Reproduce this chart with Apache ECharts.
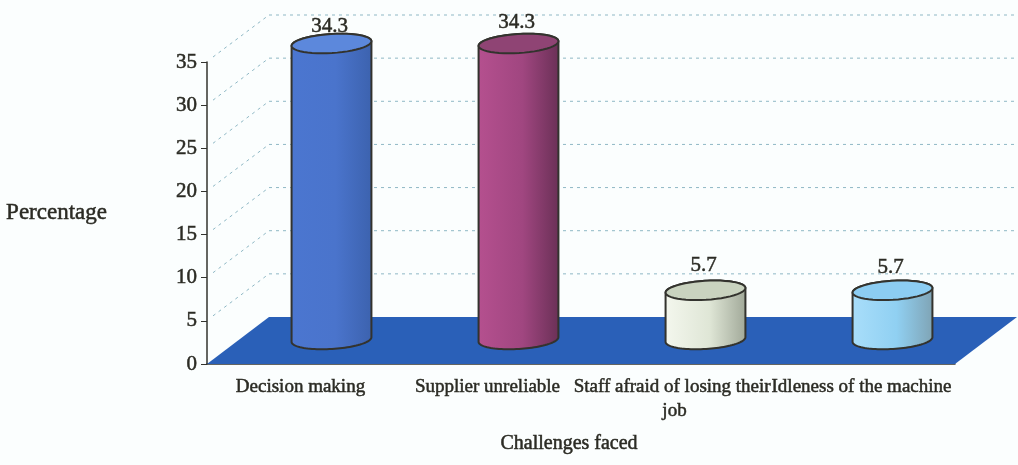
<!DOCTYPE html>
<html>
<head>
<meta charset="utf-8">
<title>Challenges faced</title>
<style>html,body{margin:0;padding:0;background:#fbfefe}#chart{width:1018px;height:465px}</style>
<script src="https://cdn.jsdelivr.net/npm/echarts@6/dist/echarts.min.js"></script>
</head>
<body>
<div id="chart"></div>
<script>
// Challenges reported, as a percentage of respondents
const categories = ['Decision making', 'Supplier unreliable', 'Staff afraid of losing their job', 'Idleness of the machine'];
const values = [34.3, 34.3, 5.7, 5.7];
const yTicks = [0, 5, 10, 15, 20, 25, 30, 35];

// Cylinder shading: left, middle and right of the side, then the top cap
const bodyShades = [
  ['#4b76d0', '#4a74cc', '#3c62ae', '#5c88dc'],
  ['#b5508f', '#a04680', '#6a3056', '#8f4474'],
  ['#f4f7ee', '#dfe6d6', '#a0a898', '#c9d3bf'],
  ['#a9defa', '#90d0f2', '#7fa3b4', '#8ccdf2']
];

// Oblique projection of the chart's depth axis
const DEPTH_X = 62, DEPTH_Y = 47;
const RX = 40, RY = 9.5, TILT = -3.5 * Math.PI / 180;
const LABEL_LIFT = [17, 21, 25, 23];
const INK = '#2b2b24';
const FONT = '"Liberation Serif", serif';
const HEAVY = { textBorderColor: INK, textBorderWidth: 0.5 };

function ellipsePoint(cx, cy, t) {
  const c = Math.cos(t) , s = Math.sin(t);
  return [
    cx + RX * c * Math.cos(TILT) - RY * s * Math.sin(TILT),
    cy + RX * c * Math.sin(TILT) + RY * s * Math.cos(TILT)
  ];
}
function arc(cx, cy, from, to) {
  const pts = [];
  for (let k = 0; k <= 48; k++) pts.push(ellipsePoint(cx, cy, from + (to - from) * k / 48));
  return pts;
}

function renderFloor(params, api) {
  const g = params.coordSys, x0 = g.x, x1 = g.x + g.width, y0 = api.coord([0, 0])[1];
  return {
    type: 'polygon',
    shape: { points: [[x0, y0], [x0 + DEPTH_X, y0 - DEPTH_Y], [x1 + DEPTH_X, y0 - DEPTH_Y], [x1, y0]] },
    style: { fill: '#2a60b8' }
  };
}

function renderWallLines(params, api) {
  const g = params.coordSys, y = api.coord([0, api.value(1)])[1];
  const style = { stroke: '#8fb8c5', lineWidth: 1, lineDash: [3, 4], fill: null };
  return {
    type: 'group',
    children: [
      { type: 'line', shape: { x1: g.x + 6, y1: y - 5, x2: g.x + DEPTH_X, y2: y - DEPTH_Y }, style },
      { type: 'line', shape: { x1: g.x + DEPTH_X, y1: y - DEPTH_Y, x2: g.x + g.width + DEPTH_X, y2: y - DEPTH_Y }, style }
    ]
  };
}

function renderCylinder(params, api) {
  const i = api.value(0), v = api.value(1);
  const top = api.coord([i, v]), base = api.coord([i, 0]);
  const cx = top[0] + DEPTH_X / 2, topY = top[1] - DEPTH_Y / 2 - 1, baseY = base[1] - DEPTH_Y / 2 - 1;
  const s = bodyShades[i];
  const outline = { stroke: '#33332e', lineWidth: 2 };
  return {
    type: 'group',
    children: [
      {
        type: 'polygon',
        shape: { points: arc(cx, baseY, 0, Math.PI).concat(arc(cx, topY, Math.PI, 2 * Math.PI)) },
        style: Object.assign({
          fill: { type: 'linear', x: 0, y: 0, x2: 1, y2: 0, colorStops: [
            { offset: 0, color: s[0] }, { offset: 0.55, color: s[1] }, { offset: 1, color: s[2] }
          ] }
        }, outline)
      },
      {
        type: 'polygon',
        shape: { points: arc(cx, topY, 0, 2 * Math.PI) },
        style: Object.assign({ fill: s[3] }, outline)
      },
      {
        type: 'text',
        style: Object.assign({
          text: String(v), x: cx - 2, y: topY - LABEL_LIFT[i], align: 'center', verticalAlign: 'middle',
          font: '21px ' + FONT, fill: INK
        }, { stroke: INK, lineWidth: 0.5 })
      }
    ]
  };
}

const chart = echarts.init(document.getElementById('chart'), null, { renderer: 'canvas' });
chart.setOption({
  animation: false,
  backgroundColor: '#fbfefe',
  grid: { left: 207, right: 63, top: 62, bottom: 101, outerBoundsMode: 'none' },
  xAxis: {
    type: 'category',
    data: categories,
    axisLine: { lineStyle: { color: '#33332e', width: 1.5 } },
    axisTick: { length: 6, lineStyle: { color: '#33332e' } },
    axisLabel: Object.assign({
      interval: 0, margin: 11, width: 206, overflow: 'break', lineHeight: 24,
      fontFamily: FONT, fontSize: 19, color: INK
    }, HEAVY),
    name: 'Challenges faced',
    nameLocation: 'middle',
    nameGap: 70,
    nameTextStyle: Object.assign({ fontFamily: FONT, fontSize: 20, color: INK, padding: [0, 24, 0, 0] }, HEAVY)
  },
  yAxis: {
    type: 'value',
    min: 0, max: 35, interval: 5,
    splitLine: { show: false },
    axisLine: { show: true, lineStyle: { color: '#33332e', width: 1.5 } },
    axisTick: { show: true, length: 6, lineStyle: { color: '#33332e' } },
    axisLabel: Object.assign({ margin: 10, fontFamily: FONT, fontSize: 21, color: INK }, HEAVY),
    name: 'Percentage',
    nameLocation: 'middle',
    nameRotate: 0,
    nameGap: 100,
    nameTextStyle: Object.assign({ fontFamily: FONT, fontSize: 23, color: INK, padding: [0, 0, 22, 0] }, HEAVY)
  },
  series: [
    { type: 'custom', silent: true, z: 1, renderItem: renderWallLines, data: yTicks.filter(t => t > 0).map(t => [0, t]) },
    { type: 'custom', silent: true, z: 2, renderItem: renderFloor, data: [[0, 0]] },
    { type: 'custom', silent: true, z: 3, renderItem: renderCylinder, data: values.map((v, i) => [i, v]) }
  ]
});
</script>
</body>
</html>
